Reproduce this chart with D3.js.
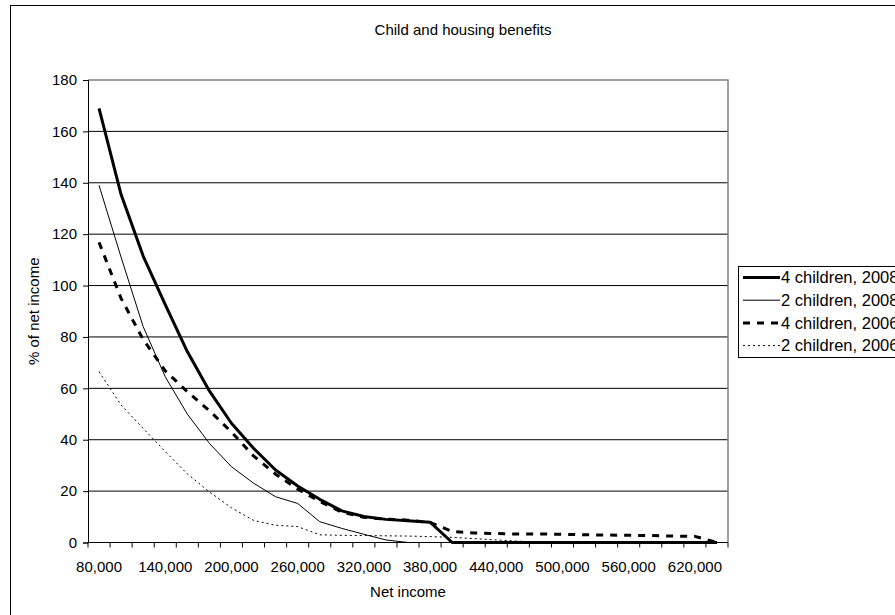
<!DOCTYPE html>
<html lang="en">
<head>
    <meta charset="UTF-8">
    <title>Child and housing benefits</title>
    <style>
        body {
            margin: 0;
            padding: 0;
            background-color: #fff;
            font-family: "Liberation Sans", Arial, sans-serif;
        }

        svg text {
            font-family: "Liberation Sans", Arial, sans-serif;
            font-size: 15px;
            fill: #000;
        }

        .grid line {
            stroke: #000;
            stroke-width: 1px;
        }

        .series {
            fill: none;
        }
    </style>
</head>
<body>

<svg id="chart" width="895" height="615"></svg>

<script src="https://d3js.org/d3.v7.min.js"></script>
<script>
    // categories on the x axis (net income), one every 20,000
    const categories = [80000, 100000, 120000, 140000, 160000, 180000, 200000, 220000, 240000, 260000,
        280000, 300000, 320000, 340000, 360000, 380000, 400000, 420000, 440000, 460000,
        480000, 500000, 520000, 540000, 560000, 580000, 600000, 620000, 640000];

    // only every third category gets a label
    const xTickLabels = [80000, 140000, 200000, 260000, 320000, 380000, 440000, 500000, 560000, 620000];
    const yTicks = [0, 20, 40, 60, 80, 100, 120, 140, 160, 180];

    // % of net income
    const fourChildren2008 = [169, 135.4, 111.5, 92.6, 74.3, 59, 46.4, 36.7, 28.2, 22, 16.8, 12.3, 10.1, 9.0, 8.5, 7.9,
        0, 0, 0, 0, 0, 0, 0, 0, 0, 0, 0, 0, 0];
    const twoChildren2008 = [139, 111, 84, 64.5, 50, 38.6, 29.5, 23.1, 17.8, 15.2, 8.1, 5.5, 3.2, 1.0, 0, 0,
        0, 0, 0, 0, 0, 0, 0, 0, 0, 0, 0, 0, 0];
    const fourChildren2006 = [116.8, 95, 79, 66.8, 58.7, 51.3, 43, 33.7, 26.6, 20.8, 16, 11.8, 9.8, 9.1, 8.7, 7.8,
        4.3, 3.7, 3.5, 3.3, 3.3, 3.2, 3.0, 2.9, 2.8, 2.7, 2.5, 2.4, 0];
    const twoChildren2006 = [66.5, 53.5, 44.4, 35.4, 26.7, 19.7, 13.5, 8.6, 6.7, 6.2, 3, 2.8, 2.7, 2.6, 2.5, 2.3,
        2.0, 1.5, 1.0, 0.5, 0.2, 0, 0, 0, 0, 0, 0, 0, 0];

    const seriesNames = ["4 children, 2008", "2 children, 2008", "4 children, 2006", "2 children, 2006"];

    const series = [
        {name: seriesNames[0], values: fourChildren2008, width: 3, dash: null},
        {name: seriesNames[1], values: twoChildren2008, width: 1, dash: null},
        {name: seriesNames[2], values: fourChildren2006, width: 3, dash: "7,7"},
        {name: seriesNames[3], values: twoChildren2006, width: 1, dash: "2,3"}
    ];

    const svg = d3.select("#chart");

    // outer chart frame
    svg.append("rect")
        .attr("x", 10.5)
        .attr("y", 5.5)
        .attr("width", 1000)
        .attr("height", 1000)
        .attr("fill", "none")
        .attr("stroke", "#000");

    const plot = {left: 88, right: 728, top: 80, bottom: 542.5};

    const x = d3.scaleBand()
        .domain(categories)
        .range([plot.left, plot.right])
        .padding(0);

    const y = d3.scaleLinear()
        .domain([0, 180])
        .range([plot.bottom, plot.top]);

    const cx = d => x(d) + x.bandwidth() / 2;

    // horizontal gridlines
    svg.append("g")
        .attr("class", "grid")
        .selectAll("line")
        .data(yTicks.filter(d => d > 0 && d < 180))
        .enter().append("line")
        .attr("x1", plot.left)
        .attr("x2", plot.right)
        .attr("y1", d => y(d))
        .attr("y2", d => y(d));

    // plot area border (top and right are grey)
    svg.append("path")
        .attr("d", "M" + plot.left + "," + y(180) + "H" + plot.right + "V" + plot.bottom)
        .attr("fill", "none")
        .attr("stroke", "#808080")
        .attr("stroke-width", 1.5);

    // y axis
    const yAxis = svg.append("g")
        .attr("transform", "translate(" + plot.left + ",0)")
        .call(d3.axisLeft(y).tickValues(yTicks).tickSize(5).tickPadding(6));
    yAxis.select(".domain").attr("stroke", "#000");
    yAxis.selectAll(".tick line").attr("stroke", "#000");
    yAxis.selectAll("text").attr("font-size", 15).attr("font-family", null);

    // x axis: ticks on category edges, labels on every third category
    const xAxis = svg.append("g")
        .attr("transform", "translate(0," + plot.bottom + ")")
        .call(d3.axisBottom(x).tickValues(xTickLabels).tickSize(0).tickPadding(19).tickFormat(d3.format(",")));
    xAxis.select(".domain").remove();
    xAxis.selectAll("text").attr("font-size", 15).attr("font-family", null);

    svg.append("g")
        .selectAll("line")
        .data(categories.map(d => x(d)).concat([plot.right]))
        .enter().append("line")
        .attr("x1", d => d)
        .attr("x2", d => d)
        .attr("y1", plot.bottom)
        .attr("y2", plot.bottom + 5)
        .attr("stroke", "#000");

    svg.append("line")
        .attr("x1", plot.left)
        .attr("x2", plot.right)
        .attr("y1", plot.bottom)
        .attr("y2", plot.bottom)
        .attr("stroke", "#000");

    // lines
    const line = d3.line()
        .x((d, i) => cx(categories[i]))
        .y(d => y(d));

    svg.append("g")
        .selectAll("path")
        .data(series.slice().reverse())
        .enter().append("path")
        .attr("class", "series")
        .attr("d", d => line(d.values))
        .attr("stroke", "#000")
        .attr("stroke-width", d => d.width)
        .attr("stroke-dasharray", d => d.dash)
        .attr("stroke-linejoin", "round");

    // titles
    svg.append("text")
        .attr("x", 463)
        .attr("y", 35)
        .attr("text-anchor", "middle")
        .text("Child and housing benefits");

    svg.append("text")
        .attr("x", (plot.left + plot.right) / 2)
        .attr("y", 597)
        .attr("text-anchor", "middle")
        .text("Net income");

    svg.append("text")
        .attr("transform", "translate(39," + (plot.top + plot.bottom) / 2 + ") rotate(-90)")
        .attr("text-anchor", "middle")
        .text("% of net income");

    // legend
    const legend = svg.append("g").attr("transform", "translate(738,266)");
    legend.append("rect")
        .attr("x", 0.5)
        .attr("y", 0.5)
        .attr("width", 200)
        .attr("height", 91)
        .attr("fill", "#fff")
        .attr("stroke", "#000");

    const rows = legend.selectAll(".row")
        .data(series)
        .enter().append("g")
        .attr("transform", (d, i) => "translate(0," + (11.5 + i * 22.7) + ")");

    rows.append("line")
        .attr("x1", 5)
        .attr("x2", 42)
        .attr("stroke", "#000")
        .attr("stroke-width", d => d.width)
        .attr("stroke-dasharray", d => d.dash);

    rows.append("text")
        .attr("x", 43)
        .attr("dy", "0.35em")
        .style("font-size", "16.5px")
        .text(d => d.name);
</script>

</body>
</html>
